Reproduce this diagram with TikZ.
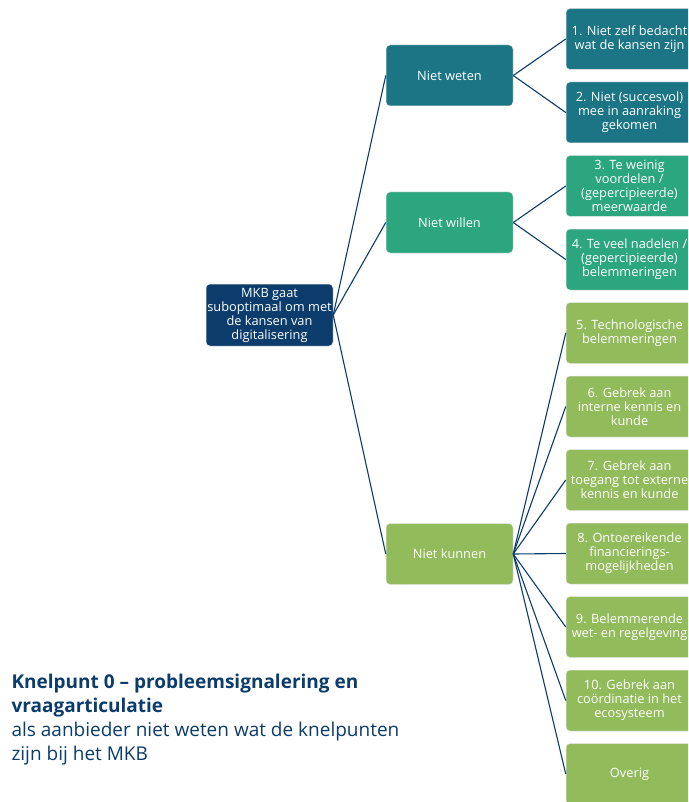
\documentclass[tikz,border=0pt]{standalone}
\usepackage{fontspec}
\setmainfont{Open Sans}
\usepackage{tikz}
\definecolor{mkbnavy}{HTML}{0B3C6C}
\definecolor{wetenteal}{HTML}{1B7585}
\definecolor{willengreen}{HTML}{2BA67F}
\definecolor{kunnengreen}{HTML}{92BB5C}
\def\catx{449.5}
\def\itemx{629.5}

\begin{document}
\begin{tikzpicture}[x=1pt,y=-1pt,draw=mkbnavy,line width=1.1pt]
    \tikzstyle{box}=[rounded corners=4pt,minimum width=127pt,minimum height=61pt,inner sep=0pt,
        align=center,text=white,font=\fontsize{12.8}{14}\selectfont,draw=white!80!gray,line width=0.5pt]
    \tikzstyle{root box}=[box, fill=mkbnavy, minimum height=62pt];
    \tikzstyle{weten box}=[box, fill=wetenteal];
    \tikzstyle{willen box}=[box, fill=willengreen];
    \tikzstyle{kunnen box}=[box, fill=kunnengreen];
    \tikzstyle{title}=[anchor=north west,align=left,inner sep=0pt,text=mkbnavy,font=\fontsize{19}{24}\selectfont]

    \useasboundingbox (0,0) rectangle (688,802);
    \clip (0,0) rectangle (688,802);

    % Draw the root node
    \node[root box] (mkb) at (269.5,315) {MKB gaat\\suboptimaal om met\\de kansen van\\digitalisering};

    % Draw the three categories
    \node[weten box] (weten) at (\catx,75.5) {Niet weten};
    \node[willen box] (willen) at (\catx,222.5) {Niet willen};
    \node[kunnen box] (kunnen) at (\catx,554) {Niet kunnen};

    % Draw the knelpunten
    \foreach \name/\y/\txt in {1/39/{1. Niet zelf bedacht\\wat de kansen zijn},
                               2/112.5/{2. Niet (succesvol)\\mee in aanraking\\gekomen}}
        \node[weten box] (K-\name) at (\itemx,\y) {\txt};
    \foreach \name/\y/\txt in {3/186/{3. Te weinig\\voordelen /\\(gepercipieerde)\\meerwaarde},
                               4/259.5/{4. Te veel nadelen /\\(gepercipieerde)\\belemmeringen}}
        \node[willen box] (K-\name) at (\itemx,\y) {\txt};
    \foreach \name/\y/\txt in {5/333/{5. Technologische\\belemmeringen},
                               6/406.5/{6. Gebrek aan\\interne kennis en\\kunde},
                               7/480/{7. Gebrek aan\\toegang tot externe\\kennis en kunde},
                               8/553.5/{8. Ontoereikende\\financierings-\\mogelijkheden},
                               9/627/{9. Belemmerende\\wet- en regelgeving},
                               10/700.5/{10. Gebrek aan\\coördinatie in het\\ecosysteem},
                               11/774/{Overig}}
        \node[kunnen box] (K-\name) at (\itemx,\y) {\txt};

    % Connect the root with the categories
    \foreach \dest in {weten,willen,kunnen}
        \draw (mkb.east) -- (\dest.west);

    % Connect the categories with their knelpunten
    \foreach \dest in {1,2}
        \draw (weten.east) -- (K-\dest.west);
    \foreach \dest in {3,4}
        \draw (willen.east) -- (K-\dest.west);
    \foreach \dest in {5,...,11}
        \draw (kunnen.east) -- (K-\dest.west);

    % Title
    \node[title] (knelpunt) at (11,674) {\textbf{Knelpunt 0 -- probleemsignalering en}\\\textbf{vraagarticulatie}\\als aanbieder niet weten wat de knelpunten\\zijn bij het MKB};
\end{tikzpicture}
\end{document}
